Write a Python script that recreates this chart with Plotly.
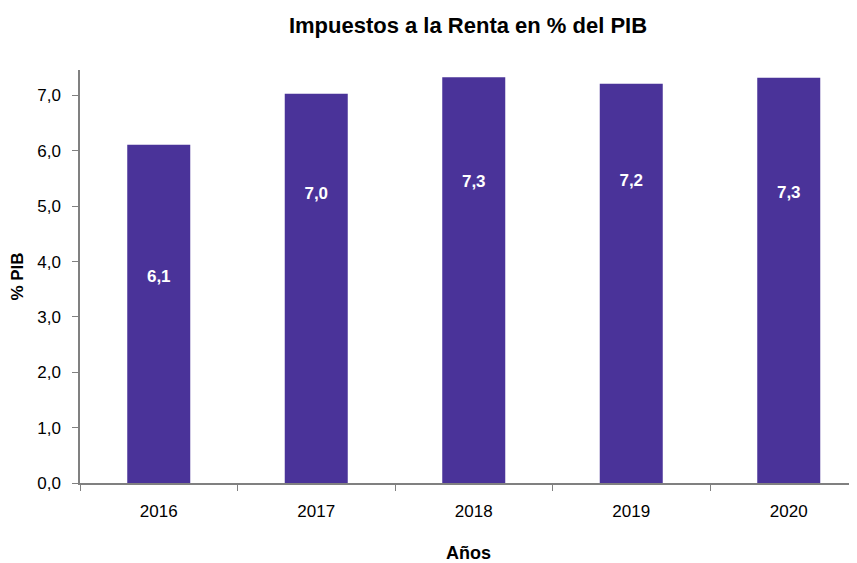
import plotly.graph_objects as go

years = ["2016", "2017", "2018", "2019", "2020"]
values = [6.11, 7.03, 7.33, 7.21, 7.32]
labels = ["6,1", "7,0", "7,3", "7,2", "7,3"]
label_y = [3.70, 5.21, 5.42, 5.44, 5.23]

bar_color = "#4A3399"
font_family = "Liberation Sans, Arial, sans-serif"

# page body has an 8px default margin; figure is sized/offset to compensate
W, H = 849, 555
OFF = 8

fig = go.Figure()
fig.add_trace(go.Bar(x=years, y=values, marker=dict(color=bar_color, line=dict(width=0)),
                     width=0.4, hoverinfo="skip"))
fig.add_trace(go.Scatter(x=years, y=label_y, mode="text",
                         text=[f"<b>{t}</b>" for t in labels],
                         textposition="middle center",
                         textfont=dict(family=font_family, size=17, color="white"),
                         hoverinfo="skip"))

fig.update_layout(
    width=W, height=H,
    margin=dict(l=80 - OFF, r=0, t=70 - OFF, b=78),
    paper_bgcolor="white", plot_bgcolor="white",
    separators=",.",
    showlegend=False,
    font=dict(family=font_family, color="black"),
    title=dict(text="<b>Impuestos a la Renta en % del PIB</b>",
               x=(468 - OFF) / W, xanchor="center", y=1 - (25 - OFF) / H, yanchor="middle",
               font=dict(family=font_family, size=22, color="black")),
)

fig.update_xaxes(
    type="category", range=[-0.5, -0.5 + 777 / 157.5],
    showline=True, linecolor="#808080", linewidth=1.5,
    ticks="outside", tickson="boundaries", ticklen=6, tickcolor="#808080", tickwidth=1,
    ticklabelstandoff=12,
    showgrid=False, zeroline=False,
    tickfont=dict(family=font_family, size=17, color="black"),
    title=dict(text="<b>Años</b>", font=dict(family=font_family, size=18, color="black"),
               standoff=29),
)
fig.update_yaxes(
    range=[0, 7.46], dtick=1, tick0=0, tickformat=".1f",
    showline=True, linecolor="#808080", linewidth=1.5,
    ticks="outside", ticklen=6, tickcolor="#808080", tickwidth=1,
    ticklabelstandoff=8,
    showgrid=False, zeroline=False,
    tickfont=dict(family=font_family, size=17, color="black"),
    title=dict(text="<b>% PIB</b>", font=dict(family=font_family, size=17, color="black"),
               standoff=10),
)

fig.write_html("out.html")
